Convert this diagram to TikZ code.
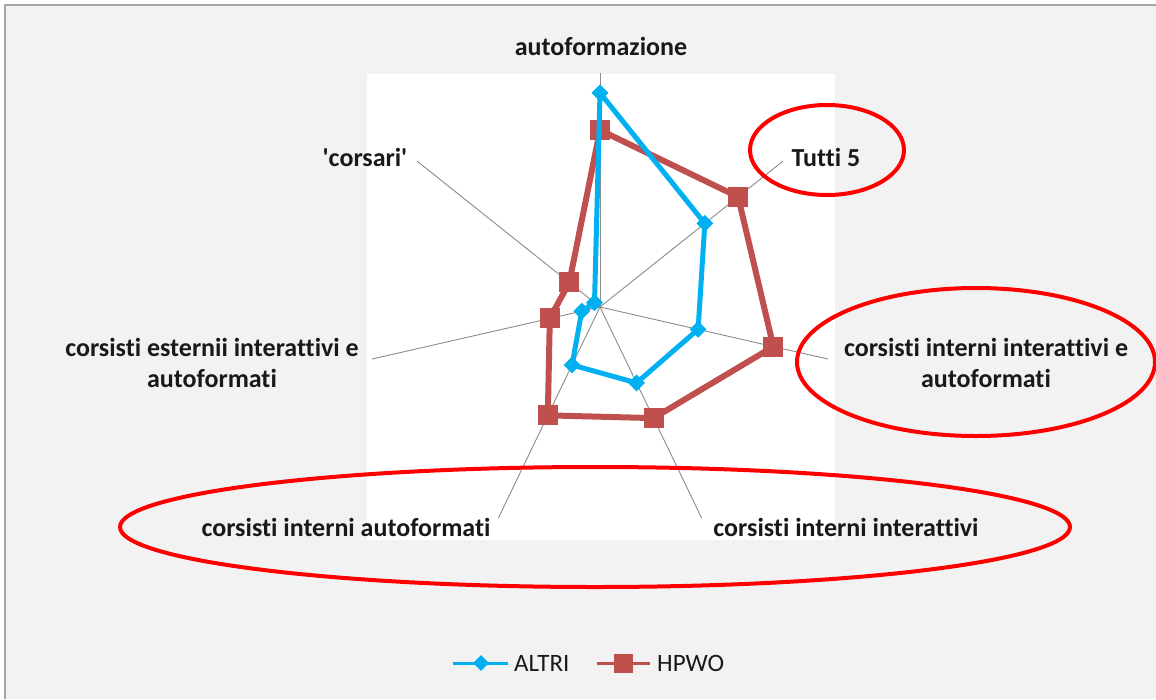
\documentclass[tikz,border=0pt]{standalone}
\usepackage{fontspec}
\setmainfont{Carlito}
\newfontfamily\chartfont{Carlito}[Ligatures=NoCommon]
\usetikzlibrary{shapes.geometric}
\definecolor{bggray}{HTML}{F2F2F2}
\definecolor{framegray}{HTML}{A6A6A6}
\definecolor{axisgray}{HTML}{8C8C8C}
\definecolor{altri}{HTML}{00B0F0}
\definecolor{hpwo}{HTML}{C0504D}
\definecolor{ringred}{HTML}{FF0000}
\tikzset{
  lbl/.style={font=\chartfont\bfseries\fontsize{26}{31}\selectfont, text=black!90, align=center, inner sep=0pt},
  legtxt/.style={font=\chartfont\fontsize{25}{30}\selectfont, text=black!90, anchor=west, inner sep=0pt},
  dia/.style={diamond, fill=altri, inner sep=0pt, minimum size=17pt},
  sq/.style={rectangle, fill=hpwo, inner sep=0pt, minimum size=20pt},
  ring/.style={draw=ringred, line width=4pt}
}

\begin{document}
\begin{tikzpicture}[x=1pt,y=-1pt]
\useasboundingbox (0,0) rectangle (1156,699);
\fill[white] (0,0) rectangle (1156,699);
\fill[bggray] (5,5) rectangle (1156,699);
\draw[framegray, line width=2pt] (5,699) -- (5,5) -- (1156,5);
\fill[white] (367,74) rectangle (835,540);

% radar
\begin{scope}[shift={(600,307)}, y=1pt]
\foreach \i in {0,...,6}
  \draw[axisgray, line width=0.9pt] (0,0) -- ({90-\i*360/7}:234);
\foreach \v [count=\i from 0] in {0.915,0.573,0.43,0.36,0.275,0.08,0.03}
  \coordinate (a\i) at ({90-\i*360/7}:{\v*234});
\foreach \v [count=\i from 0] in {0.756,0.755,0.76,0.527,0.514,0.22,0.168}
  \coordinate (h\i) at ({90-\i*360/7}:{\v*234});
\draw[hpwo, line width=6pt, line join=round] (h0) -- (h1) -- (h2) -- (h3) -- (h4) -- (h5) -- (h6) -- cycle;
\foreach \i in {0,...,6} \node[sq] (mh\i) at (h\i) {};
\draw[altri, line width=5pt, line join=round] (a0) -- (a1) -- (a2) -- (a3) -- (a4) -- (a5) -- (a6) -- cycle;
\foreach \i in {0,...,6} \node[dia] (ma\i) at (a\i) {};
\end{scope}

% labels
\node[lbl] (lAuto) at (601,46) {autoformazione};
\node[lbl] (lTutti) at (826,157) {Tutti 5};
\node[lbl] (lIntMix) at (986,363) {corsisti interni interattivi e\\autoformati};
\node[lbl] (lIntInt) at (846,527) {corsisti interni interattivi};
\node[lbl] (lIntAuto) at (346,527) {corsisti interni autoformati};
\node[lbl] (lEst) at (212,363) {corsisti esternii interattivi e\\autoformati};
\node[lbl] (lCors) at (365,157) {\symbol{39}corsari\symbol{39}};

% legend
\draw[altri, line width=3pt] (453,663) -- (508,663);
\node[dia, minimum size=16pt] (legA) at (481,663) {};
\node[legtxt] (txtA) at (514,663) {ALTRI};
\draw[hpwo, line width=3pt] (597,663) -- (650,663);
\node[sq, minimum size=19pt] (legH) at (623,663) {};
\node[legtxt] (txtH) at (657,663) {HPWO};

% red rings
\draw[ring] (827,150) ellipse [x radius=77pt, y radius=45pt];
\draw[ring] (976,362) ellipse [x radius=179pt, y radius=74pt];
\draw[ring] (595,527) ellipse [x radius=475pt, y radius=60pt];
\end{tikzpicture}
\end{document}
